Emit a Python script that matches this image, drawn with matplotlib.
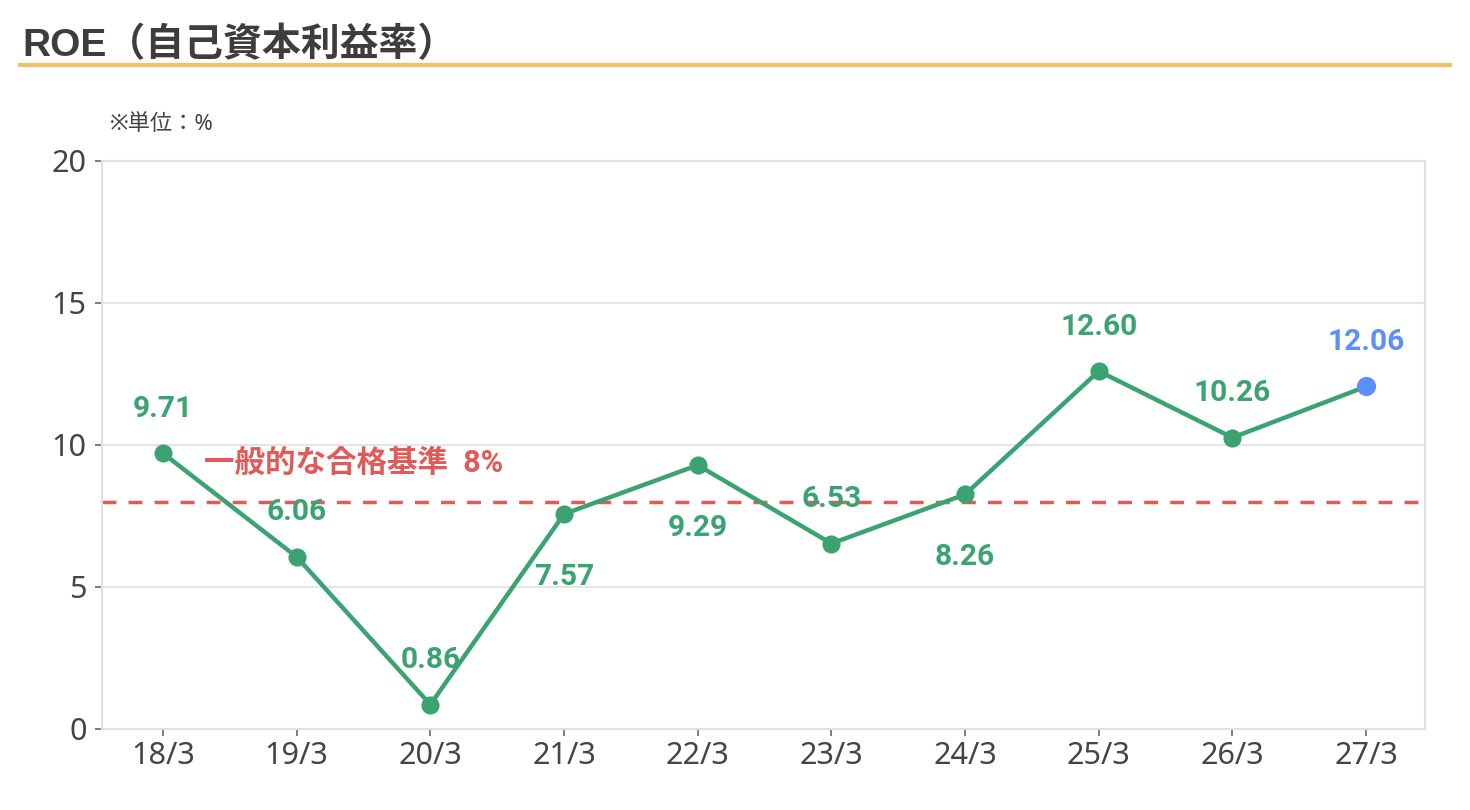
import matplotlib
matplotlib.use('Agg')
import matplotlib.pyplot as plt
from matplotlib.lines import Line2D

plt.rcParams['font.family'] = ['Noto Sans', 'Noto Sans CJK JP', 'DejaVu Sans']
bold_fam = ['Roboto', 'Noto Sans CJK JP', 'DejaVu Sans']

# data
periods = ['18/3', '19/3', '20/3', '21/3', '22/3', '23/3', '24/3', '25/3', '26/3', '27/3']
roe = [9.71, 6.06, 0.86, 7.57, 9.29, 6.53, 8.26, 12.60, 10.26, 12.06]
label_side = [1, 1, 1, -1, -1, 1, -1, 1, 1, 1]  # 1 = above, -1 = below
threshold = 8
yticks = [0, 5, 10, 15, 20]

green = '#3ba272'
blue = '#5b8ff9'
red = '#e05a5a'
text_col = '#444444'
grid_col = '#e0e0e0'

fig = plt.figure(figsize=(14.7, 8.1), dpi=100)
ax = fig.add_axes([102 / 1470, 81 / 810, 1323 / 1470, 568 / 810])

x = list(range(len(periods)))

# threshold line
ax.axhline(threshold, color=red, lw=2.5, ls=(0, (4, 3.5)), zorder=2)
ax.text(0.31, 9.37, '一般的な合格基準  8%', color=red, fontsize=22,
        fontweight='bold', va='center', ha='left', zorder=3, family=bold_fam)

# main line (last point is a forecast, shown in blue)
ax.plot(x, roe, color=green, lw=3.2, zorder=4)
ax.scatter(x[:-1], roe[:-1], s=170, color=green, zorder=5, linewidths=0)
ax.scatter(x[-1:], roe[-1:], s=190, color=blue, zorder=5, linewidths=0)

for i, v in enumerate(roe):
    c = blue if i == len(roe) - 1 else green
    dy = 32 if label_side[i] > 0 else -45
    ax.annotate(f'{v:.2f}', (i, v), xytext=(0, dy),
                textcoords='offset points', ha='center', va='center',
                color=c, fontsize=21.5, fontweight='bold', zorder=6,
                family=bold_fam)

ax.set_xlim(-0.456, 9.44)
ax.set_ylim(0, 20)
ax.set_xticks(x)
ax.set_xticklabels(periods)
ax.set_yticks(yticks)
ax.grid(axis='y', color=grid_col, lw=1.2, zorder=0)
ax.set_axisbelow(True)
for s in ax.spines.values():
    s.set_color(grid_col)
    s.set_linewidth(1.5)
ax.tick_params(colors='#666666', labelcolor=text_col, labelsize=22,
               length=5, width=1.2)
ax.tick_params(axis='x', pad=4)
ax.tick_params(axis='y', pad=6)

# title and rule
fig.text(22 / 1470, 1 - 45 / 810, 'ROE（自己資本利益率）', fontsize=28,
         fontweight='bold', color='#3d3d3d', va='center', ha='left',
         family=['Liberation Sans', 'Noto Sans CJK JP'])
fig.add_artist(Line2D([20 / 1470, 1450 / 1470], [1 - 65 / 810, 1 - 65 / 810],
                      color='#f2c06a', lw=3, transform=fig.transFigure))
fig.text(110 / 1470, 1 - 125 / 810, '※単位：%', fontsize=16,
         color=text_col, va='center', ha='left')

fig.savefig('out.png', dpi=100, facecolor='white')
